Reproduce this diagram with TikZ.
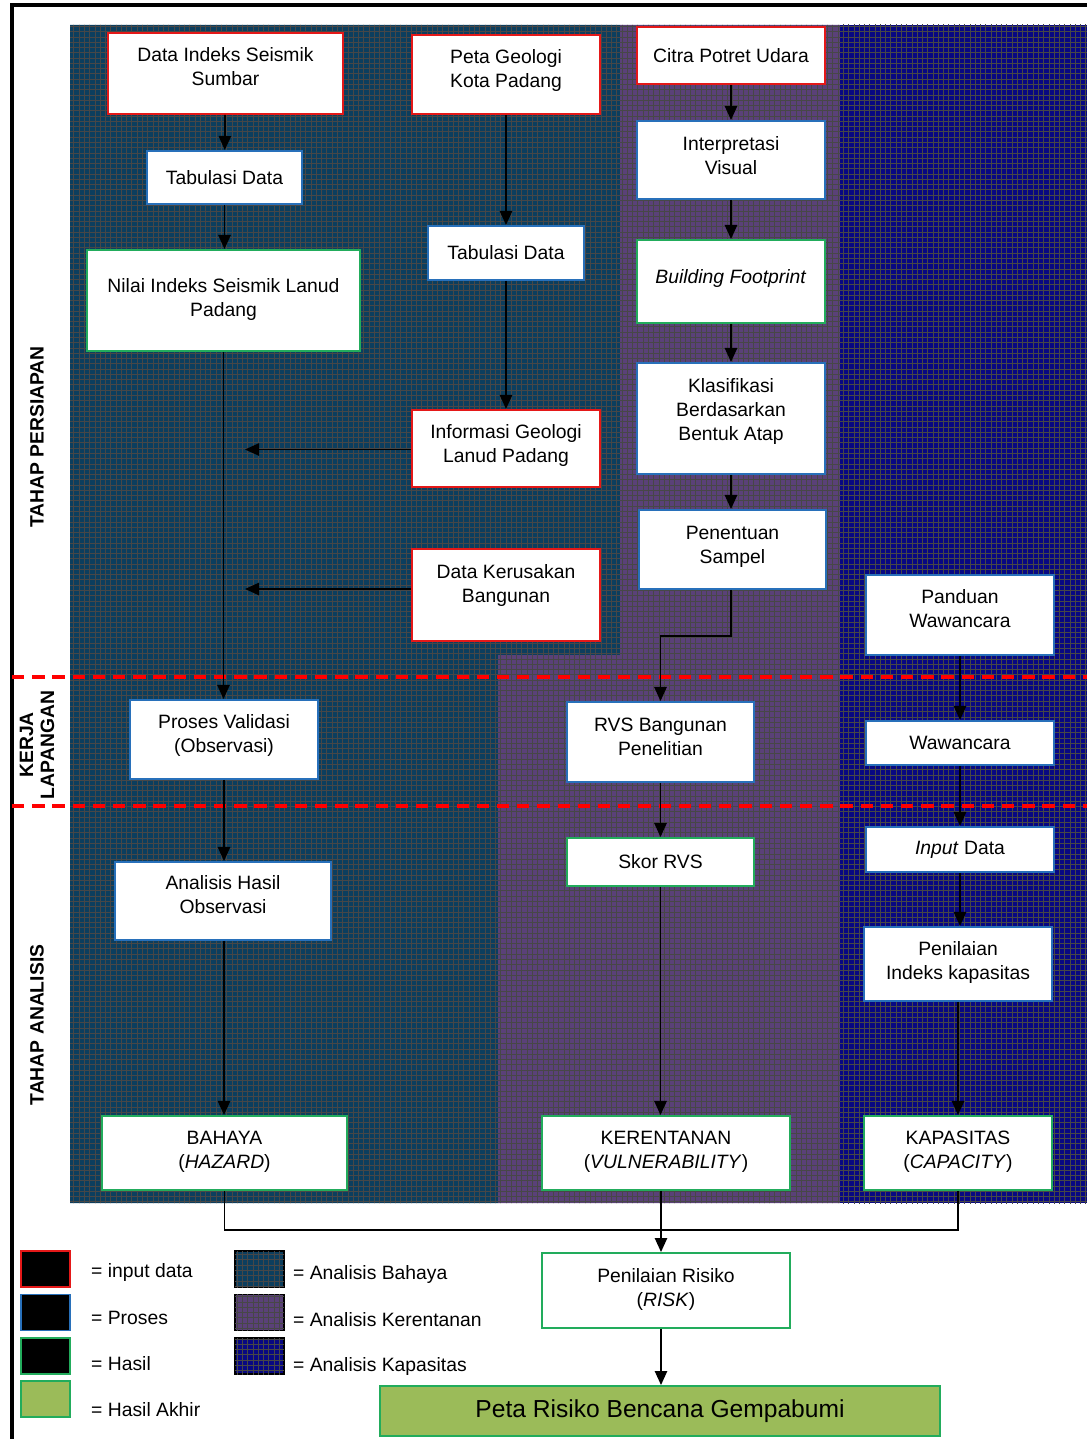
\documentclass[tikz,border=0pt]{standalone}
\usepackage{fontspec}
\setmainfont{Liberation Sans}
\usetikzlibrary{arrows.meta,patterns}

\definecolor{bahayabg}{RGB}{12,62,94}
\definecolor{rentanbg}{RGB}{90,65,120}
\definecolor{kapasbg}{RGB}{8,8,130}
\definecolor{tepimerah}{RGB}{228,24,24}
\definecolor{tepibiru}{RGB}{40,112,186}
\definecolor{tepihijau}{RGB}{34,172,92}
\definecolor{hijauakhir}{RGB}{155,187,89}

\begin{document}
\begin{tikzpicture}[x=0.02cm,y=-0.02cm,>={Triangle[width=7pt,length=8pt]},
  kotak/.style={draw,fill=white,line width=1.1pt,align=center,inner sep=2pt,font=\fontsize{11}{13.6}\selectfont},
  input/.style={kotak,draw=tepimerah},
  proses/.style={kotak,draw=tepibiru},
  hasil/.style={kotak,draw=tepihijau},
  naik/.style={text depth=#1},
  zbahaya/.style={fill=bahayabg,postaction={pattern=grid,pattern color=black!72}},
  zrentan/.style={fill=rentanbg,postaction={pattern=grid,pattern color=black!72}},
  zkapas/.style={fill=kapasbg,postaction={pattern=grid,pattern color=black!72}},
  alur/.style={line width=1pt},
  batas/.style={red,line width=2pt,dash pattern=on 7pt off 4.5pt},
  tahap/.style={rotate=90,align=center,font=\bfseries\fontsize{11}{12}\selectfont},
  ket/.style={anchor=west,font=\fontsize{11}{13.6}\selectfont}]
  \useasboundingbox (0,0) rectangle (1087,1439);

  % zona analisis
  \path[zbahaya] (70,25) -- (620,25) -- (620,655) -- (498,655) -- (498,1203) -- (70,1203) -- cycle;
  \path[zrentan] (620,25) -- (840,25) -- (840,1203) -- (498,1203) -- (498,655) -- (620,655) -- cycle;
  \path[zkapas] (840,25) rectangle (1087,1203);
  \draw[line width=2pt] (12,1439) -- (12,5) -- (1087,5);

  % batas tahap
  \draw[batas] (12,677) -- (1087,677);
  \draw[batas] (12,806) -- (1087,806);
  \node[tahap] (persiapan) at (37,437) {TAHAP PERSIAPAN};
  \node[tahap] (lapangan) at (37,745) {KERJA\\LAPANGAN};
  \node[tahap] (analisis) at (37,1025) {TAHAP ANALISIS};

  % kolom bahaya
  \node[input,naik=7.5pt,minimum width=4.7cm,minimum height=1.62cm] (dis) at (225.5,73.5) {Data Indeks Seismik\\Sumbar};
  \node[proses,minimum width=3.1cm,minimum height=1.06cm] (tab1) at (224.5,177.5) {Tabulasi Data};
  \node[hasil,naik=3pt,minimum width=5.46cm,minimum height=2.02cm] (nis) at (223.5,300.5) {Nilai Indeks Seismik Lanud\\Padang};
  \node[input,naik=6.4pt,minimum width=3.76cm,minimum height=1.58cm] (pgk) at (506,74.5) {Peta Geologi\\Kota Padang};
  \node[proses,minimum width=3.12cm,minimum height=1.08cm] (tab2) at (506,253) {Tabulasi Data};
  \node[input,naik=5.8pt,minimum width=3.76cm,minimum height=1.54cm] (igl) at (506,448.5) {Informasi Geologi\\Lanud Padang};
  \node[input,naik=13.2pt,minimum width=3.76cm,minimum height=1.84cm] (dkb) at (506,595) {Data Kerusakan\\Bangunan};
  \node[proses,naik=7pt,minimum width=3.76cm,minimum height=1.58cm] (pvo) at (224,739.5) {Proses Validasi\\(Observasi)};
  \node[proses,naik=7.5pt,minimum width=4.32cm,minimum height=1.56cm] (aho) at (223,901) {Analisis Hasil\\Observasi};
  \node[hasil,naik=3.5pt,minimum width=4.9cm,minimum height=1.48cm] (bahaya) at (224.5,1153) {BAHAYA\\(\textit{HAZARD})};

  % kolom kerentanan
  \node[input,minimum width=3.76cm,minimum height=1.14cm] (cpu) at (731,55.5) {Citra Potret Udara};
  \node[proses,naik=5.3pt,minimum width=3.76cm,minimum height=1.56cm] (iv) at (731,160) {Interpretasi\\Visual};
  \node[hasil,naik=5.5pt,minimum width=3.76cm,minimum height=1.66cm] (bf) at (731,281.5) {\textit{Building Footprint}};
  \node[proses,naik=10.4pt,minimum width=3.76cm,minimum height=2.22cm] (kbb) at (731,418.5) {Klasifikasi\\Berdasarkan\\Bentuk Atap};
  \node[proses,naik=5.8pt,minimum width=3.74cm,minimum height=1.58cm] (ps) at (732.5,549.5) {Penentuan\\Sampel};
  \node[proses,naik=6.4pt,minimum width=3.74cm,minimum height=1.6cm] (rvs) at (660.5,742) {RVS Bangunan\\Penelitian};
  \node[hasil,minimum width=3.74cm,minimum height=0.96cm] (skor) at (660.5,862) {Skor RVS};
  \node[hasil,naik=3.5pt,minimum width=4.96cm,minimum height=1.48cm] (rentan) at (666,1153) {KERENTANAN\\(\textit{VULNERABILITY})};

  % kolom kapasitas
  \node[proses,naik=7.5pt,minimum width=3.76cm,minimum height=1.6cm] (pw) at (960,615) {Panduan\\Wawancara};
  \node[proses,minimum width=3.76cm,minimum height=0.88cm] (ww) at (960,743) {Wawancara};
  \node[proses,minimum width=3.76cm,minimum height=0.9cm] (inp) at (960,849.5) {\textit{Input} Data};
  \node[proses,naik=3.5pt,minimum width=3.76cm,minimum height=1.48cm] (pik) at (958,964) {Penilaian\\Indeks kapasitas};
  \node[hasil,naik=3.5pt,minimum width=3.76cm,minimum height=1.48cm] (kapas) at (958,1153) {KAPASITAS\\(\textit{CAPACITY})};

  % hasil akhir
  \node[hasil,naik=3.5pt,minimum width=4.96cm,minimum height=1.5cm] (risk) at (666,1290.5) {Penilaian Risiko\\(\textit{RISK})};
  \node[hasil,fill=hijauakhir,minimum width=11.2cm,minimum height=1cm,font=\fontsize{14}{17}\selectfont] (peta) at (660,1411) {Peta Risiko Bencana Gempabumi};

  % alur
  \draw[alur,->] (dis) -- (tab1);
  \draw[alur,->] (tab1) -- (tab1 |- nis.north);
  \draw[alur,->] (nis.south) -- (nis.south |- pvo.north);
  \draw[alur,->] (pgk) -- (tab2);
  \draw[alur,->] (tab2) -- (igl);
  \coordinate (igl-end) at (245,449.5);
  \coordinate (dkb-end) at (245,589);
  \draw[alur,->] (igl.west |- igl-end) -- (igl-end);
  \draw[alur,->] (dkb.west |- dkb-end) -- (dkb-end);
  \draw[alur,->] (pvo) -- (pvo.south |- aho.north);
  \draw[alur,->] (aho.south -| pvo.south) -- (pvo.south |- bahaya.north);

  \draw[alur,->] (cpu) -- (iv);
  \draw[alur,->] (iv) -- (bf);
  \draw[alur,->] (bf) -- (bf |- kbb.north);
  \draw[alur,->] (kbb.south) -- (kbb.south |- ps.north);
  \draw[alur,->] (kbb.south |- ps.south) -- ++(0,46) -| (rvs.north);
  \draw[alur,->] (rvs) -- (skor);
  \draw[alur,->] (skor.south) -- (skor.south |- rentan.north);

  \draw[alur,->] (pw.south) -- (ww.north);
  \draw[alur,->] (ww) -- (inp);
  \draw[alur,->] (inp.south) -- (inp.south |- pik.north);
  \draw[alur,->] (pik) -- (kapas);

  \coordinate (gabung) at (661,1230);
  \draw[alur] (bahaya.south) |- (gabung);
  \draw[alur] (kapas.south) |- (gabung);
  \draw[alur,->] (gabung |- rentan.south) -- (gabung |- risk.north);
  \draw[alur,->] (gabung |- risk.south) -- (gabung |- peta.north);

  % keterangan
  \node[draw=tepimerah,fill=black,line width=1.1pt,minimum width=0.98cm,minimum height=0.72cm] (k-input) at (45.5,1269) {};
  \node[draw=tepibiru,fill=black,line width=1.1pt,minimum width=0.98cm,minimum height=0.72cm] (k-proses) at (45.5,1312.5) {};
  \node[draw=tepihijau,fill=black,line width=1.1pt,minimum width=0.98cm,minimum height=0.72cm] (k-hasil) at (45.5,1356) {};
  \node[draw=tepihijau,fill=hijauakhir,line width=1.1pt,minimum width=0.98cm,minimum height=0.72cm] (k-akhir) at (45.5,1399) {};
  \node[ket] (t-input) at (85,1272) {= input data};
  \node[ket] (t-proses) at (85,1318) {= Proses};
  \node[ket] (t-hasil) at (85,1364) {= Hasil};
  \node[ket] (t-akhir) at (85,1410) {= Hasil Akhir};
  \node[zbahaya,draw=black,line width=0.8pt,minimum width=0.98cm,minimum height=0.72cm] (k-bahaya) at (259.5,1269) {};
  \node[zrentan,draw=black,line width=0.8pt,minimum width=0.98cm,minimum height=0.72cm] (k-rentan) at (259.5,1312.5) {};
  \node[zkapas,draw=black,line width=0.8pt,minimum width=0.98cm,minimum height=0.72cm] (k-kapas) at (259.5,1356) {};
  \node[ket] (t-bahaya) at (287,1274) {= Analisis Bahaya};
  \node[ket] (t-rentan) at (287,1320) {= Analisis Kerentanan};
  \node[ket] (t-kapas) at (287,1366) {= Analisis Kapasitas};
\end{tikzpicture}
\end{document}
